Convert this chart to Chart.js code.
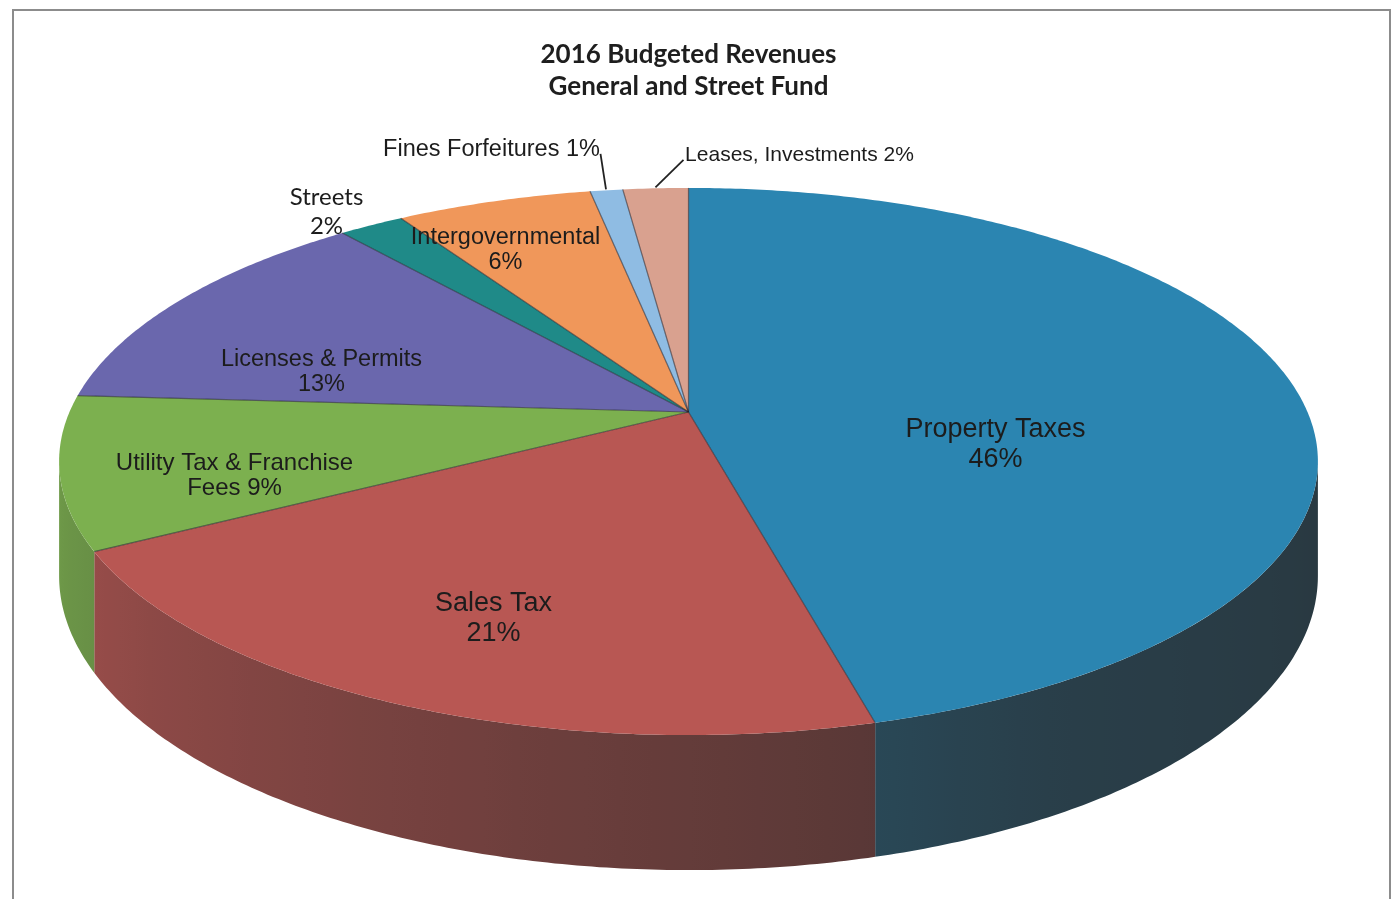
<!DOCTYPE html>
<html>
<head>
<meta charset="utf-8">
<script src="https://cdn.jsdelivr.net/npm/chart.js@4.4.1/dist/chart.umd.min.js"></script>
<style>
  html, body { margin: 0; padding: 0; background: #fff; overflow: hidden; }
  #frame { position: absolute; left: 12px; top: 9px; width: 1375px; height: 1000px; border: 2px solid #8c8c8c; }
  #revChart { position: absolute; left: 0; top: 0; }
</style>
</head>
<body>
<div id="frame"></div>
<canvas id="revChart" width="1394" height="899"></canvas>
<script>
const titleLines = ['2016 Budgeted Revenues', 'General and Street Fund'];
const categories = ['Property Taxes', 'Sales Tax', 'Utility Tax & Franchise Fees', 'Licenses & Permits',
  'Streets', 'Intergovernmental', 'Fines Forfeitures', 'Leases, Investments'];
const percents = [46, 21, 9, 13, 2, 6, 1, 2];
const sliceColors = ['#2B85B1', '#B85753', '#7CB04F', '#6A67AD', '#1F8A88', '#F0975A', '#8FBCE3', '#D9A18F'];

// label text, {p} gets the slice percent
const labelTemplates = [
  ['Property Taxes', '{p}'],
  ['Sales Tax', '{p}'],
  ['Utility Tax & Franchise', 'Fees {p}'],
  ['Licenses & Permits', '{p}'],
  ['Streets', '{p}'],
  ['Intergovernmental', '{p}'],
  ['Fines Forfeitures {p}'],
  ['Leases, Investments {p}']
];

// where each label sits, offsets from the pie centre (first line), line gap, font
const labelSpots = [
  { dx: 307, dy: 18, gap: 30, font: '27px "Liberation Sans"' },
  { dx: -195, dy: 192, gap: 30, font: '27px "Liberation Sans"' },
  { dx: -454, dy: 51, gap: 25, font: '24px "Liberation Sans"' },
  { dx: -367, dy: -52, gap: 25, font: '23.5px "Liberation Sans"' },
  { dx: -362, dy: -215, gap: 29, font: '24px Lato' },
  { dx: -183, dy: -174, gap: 25, font: '23.5px "Liberation Sans"' },
  { dx: -197, dy: -262, gap: 25, font: '23.5px "Liberation Sans"', leader: [-88, -258] },
  { dx: 111, dy: -257, gap: 25, font: '21px "Liberation Sans"', leader: [-5, -252] }
];

// tilt / perspective of the disc
const PERSP = 0.181, RX = 619, RY = 264.6, DEPTH = 110.6;

// side brightness by angle (degrees clockwise from 12 o'clock)
const shadeStops = [[0, 0.16], [90, 0.16], [150, 0.24], [166, 0.34], [190, 0.47], [240, 0.76], [275, 0.9], [360, 0.9]];

function project(cx, cy, ang, r, down) {
  const a = r * Math.cos(ang);
  const b = -r * Math.sin(ang);
  const s = 1 / (1 + PERSP * b);
  return [cx + RX * a * s, cy - RY * b * s + down * DEPTH * s];
}

function hexRgb(h) {
  const n = parseInt(h.slice(1), 16);
  return [(n >> 16) & 255, (n >> 8) & 255, n & 255];
}

function shadeAt(deg) {
  deg = ((deg % 360) + 360) % 360;
  for (let i = 1; i < shadeStops.length; i++) {
    const [d0, f0] = shadeStops[i - 1], [d1, f1] = shadeStops[i];
    if (deg <= d1) return f0 + (f1 - f0) * (deg - d0) / (d1 - d0);
  }
  return 0.9;
}

function sideColor(hex, deg) {
  const f = shadeAt(deg);
  const c = hexRgb(hex).map(v => Math.round(v * f + 40 * (1 - f)));
  return `rgb(${c[0]},${c[1]},${c[2]})`;
}

// the part of the rim that faces the viewer (canvas angles)
const FRONT_FROM = Math.acos(-PERSP) - Math.PI / 2;
const FRONT_TO = 2 * Math.PI - Math.acos(-PERSP) - Math.PI / 2;

// horizontal gradient for the front wall of one slice
function wallGradient(ctx, cx, cy, hex) {
  const x0 = project(cx, cy, FRONT_TO, 1, 0)[0];
  const x1 = project(cx, cy, FRONT_FROM, 1, 0)[0];
  const g = ctx.createLinearGradient(x0, 0, x1, 0);
  const steps = 60;
  for (let k = 0; k <= steps; k++) {
    const t = FRONT_TO - (FRONT_TO - FRONT_FROM) * k / steps;
    const x = project(cx, cy, t, 1, 0)[0];
    g.addColorStop(Math.min(1, Math.max(0, (x - x0) / (x1 - x0))), sideColor(hex, (t + Math.PI / 2) * 180 / Math.PI));
  }
  return g;
}

const pie3d = {
  id: 'pie3d',
  beforeDatasetsDraw(chart) {
    const ctx = chart.ctx;
    const arcs = chart.getDatasetMeta(0).data;
    const colors = chart.data.datasets[0].backgroundColor;
    const cx = arcs[0].x, cy = arcs[0].y;
    ctx.save();

    // side walls, only the visible front stretch of each slice
    arcs.forEach((arc, i) => {
      const from = Math.max(arc.startAngle, FRONT_FROM);
      const to = Math.min(arc.endAngle, FRONT_TO);
      if (to <= from) return;
      const span = to - from;
      const n = Math.max(2, Math.ceil(span / 0.01));
      ctx.beginPath();
      for (let k = 0; k <= n; k++) {
        const pt = project(cx, cy, from + span * k / n, 1, 0);
        k ? ctx.lineTo(pt[0], pt[1]) : ctx.moveTo(pt[0], pt[1]);
      }
      for (let k = n; k >= 0; k--) {
        const pt = project(cx, cy, from + span * k / n, 1, 1);
        ctx.lineTo(pt[0], pt[1]);
      }
      ctx.closePath();
      ctx.fillStyle = wallGradient(ctx, cx, cy, colors[i]);
      ctx.fill();
    });

    // top faces
    arcs.forEach((arc, i) => {
      const span = arc.endAngle - arc.startAngle;
      const n = Math.max(2, Math.ceil(span / 0.01));
      ctx.beginPath();
      ctx.moveTo(cx, cy);
      for (let k = 0; k <= n; k++) {
        const pt = project(cx, cy, arc.startAngle + span * k / n, 1, 0);
        ctx.lineTo(pt[0], pt[1]);
      }
      ctx.closePath();
      ctx.fillStyle = colors[i];
      ctx.fill();
    });

    // slice edges on the top face
    ctx.strokeStyle = 'rgba(35,35,45,0.6)';
    ctx.lineWidth = 1.2;
    arcs.forEach(arc => {
      const pt = project(cx, cy, arc.startAngle, 1, 0);
      ctx.beginPath();
      ctx.moveTo(cx, cy);
      ctx.lineTo(pt[0], pt[1]);
      ctx.stroke();
    });

    // labels
    ctx.fillStyle = '#1c1c1c';
    ctx.textAlign = 'center';
    ctx.textBaseline = 'middle';
    arcs.forEach((arc, i) => {
      const spot = labelSpots[i];
      ctx.font = spot.font;
      labelTemplates[i].forEach((line, j) => {
        ctx.fillText(line.replace('{p}', percents[i] + '%'), cx + spot.dx, cy + spot.dy + j * spot.gap);
      });
      if (spot.leader) {
        const mid = (arc.startAngle + arc.endAngle) / 2;
        const end = project(cx, cy, mid, 1.005, 0);
        ctx.beginPath();
        ctx.strokeStyle = '#222';
        ctx.lineWidth = 1.8;
        ctx.moveTo(cx + spot.leader[0], cy + spot.leader[1]);
        ctx.lineTo(end[0], end[1]);
        ctx.stroke();
      }
    });
    ctx.restore();
    return false;
  }
};

new Chart(document.getElementById('revChart'), {
  type: 'pie',
  data: {
    labels: categories,
    datasets: [{ data: percents, backgroundColor: sliceColors, borderWidth: 0 }]
  },
  options: {
    responsive: false,
    animation: false,
    events: [],
    layout: { padding: { left: 0, right: 17, top: 0, bottom: 188 } },
    plugins: {
      legend: { display: false },
      tooltip: { enabled: false },
      title: {
        display: true,
        text: titleLines,
        color: '#1e1e1e',
        font: { family: 'Lato', weight: 'bold', size: 26, lineHeight: 1.23 },
        padding: { top: 39, bottom: 10 }
      }
    }
  },
  plugins: [pie3d]
});
</script>
</body>
</html>
